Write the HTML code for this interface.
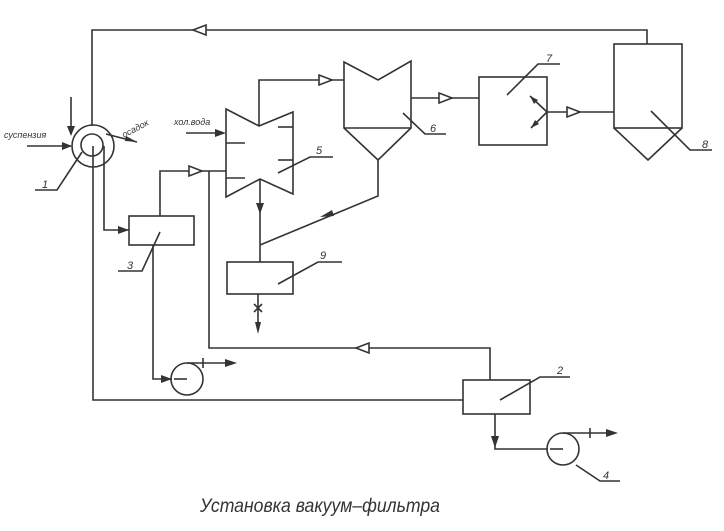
<!DOCTYPE html>
<html><head><meta charset="utf-8"><style>
html,body{margin:0;padding:0;background:#fff;}
svg{display:block}
text{font-family:"Liberation Sans","DejaVu Sans",sans-serif;font-style:italic;fill:#333}
</style></head><body>
<svg width="724" height="531" viewBox="0 0 724 531" xmlns="http://www.w3.org/2000/svg">
<g stroke="#333" stroke-width="1.6" fill="none">
<polyline points="92,126 92,30 647,30 647,44"/>
<polygon points="193,30 206,25 206,35" fill="#fff"/>
<circle cx="93" cy="146" r="21"/>
<circle cx="92" cy="145" r="11"/>
<line x1="27" y1="146" x2="71" y2="146"/>
<line x1="71" y1="97" x2="71" y2="134"/>
<path d="M106 134 L137 142"/>
<polyline points="93,146 93,400 463,400"/>
<polyline points="104,146 104,230 129,230"/>
<rect x="129" y="216" width="65" height="29"/>
<polyline points="160,216 160,171 226,171"/>
<polygon points="202,171 189,166 189,176" fill="#fff"/>
<polyline points="209,171 209,348 490,348 490,380"/>
<polygon points="356,348 369,343 369,353" fill="#fff"/>
<rect x="463" y="380" width="67" height="34"/>
<polyline points="495,414 495,449 548,449"/>
<circle cx="563" cy="449" r="16"/>
<line x1="563" y1="449" x2="550" y2="449"/>
<line x1="563" y1="433" x2="612" y2="433"/>
<line x1="590" y1="428" x2="590" y2="438"/>
<polyline points="153,245 153,379 172,379"/>
<circle cx="187" cy="379" r="16"/>
<line x1="187" y1="379" x2="174" y2="379"/>
<line x1="187" y1="363" x2="232" y2="363"/>
<line x1="203" y1="358" x2="203" y2="368"/>
<polygon points="226,109 259,126 293,112 293,194 260,179 226,197"/>
<line x1="226" y1="143" x2="245" y2="143"/>
<line x1="226" y1="178" x2="245" y2="178"/>
<line x1="278" y1="127" x2="293" y2="127"/>
<line x1="278" y1="160" x2="293" y2="160"/>
<line x1="186" y1="133" x2="220" y2="133"/>
<polyline points="259,126 259,80 344,80"/>
<polygon points="332,80 319,75 319,85" fill="#fff"/>
<line x1="260" y1="179" x2="260" y2="262"/>
<polygon points="344,62 378,80 411,61 411,128 378,160 344,128"/>
<line x1="344" y1="128" x2="411" y2="128"/>
<polyline points="378,160 378,196 260,245"/>
<line x1="411" y1="98" x2="479" y2="98"/>
<polygon points="452,98 439,93 439,103" fill="#fff"/>
<rect x="479" y="77" width="68" height="68"/>
<line x1="547" y1="112" x2="530" y2="96"/>
<line x1="547" y1="112" x2="531" y2="128"/>
<line x1="547" y1="112" x2="614" y2="112"/>
<polygon points="580,112 567,107 567,117" fill="#fff"/>
<rect x="614" y="44" width="68" height="84"/>
<polyline points="614,128 648,160 682,128"/>
<rect x="227" y="262" width="66" height="32"/>
<line x1="258" y1="294" x2="258" y2="326"/>
<path d="M254 304 L262 312 M262 304 L254 312"/>
<polyline points="82,152 57,190 35,190"/>
<polyline points="160,232 142,271 118,271"/>
<polyline points="278,173 310,157 333,157"/>
<polyline points="403,113 425,134 446,134"/>
<polyline points="507,95 538,64 560,64"/>
<polyline points="651,111 690,150 712,150"/>
<polyline points="278,284 318,262 342,262"/>
<polyline points="500,400 540,377 570,377"/>
<polyline points="576,465 600,481 620,481"/>
</g>
<g fill="#333">
<polygon points="72,146 62,142 62,150"/>
<polygon points="71,136 67,126 75,126"/>
<polygon points="129,230 118,226 118,234"/>
<polygon points="226,133 215,129 215,137"/>
<polygon points="260,214 256,203 264,203"/>
<polygon points="320,217 332,210 334,216"/>
<polygon points="258,334 255,322 261,322"/>
<polygon points="172,379 161,375 161,383"/>
<polygon points="237,363 225,359 225,367"/>
<polygon points="495,448 491,436 499,436"/>
<polygon points="618,433 606,429 606,437"/>
<polygon points="530,96 534,104 538,100"/>
<polygon points="531,128 535,120 539,124"/>
<polygon points="137,142 126,136 125,141"/>
</g>
<g font-size="11">
<text x="4" y="138" font-size="9">суспензия</text>
<text x="124" y="138" font-size="9" transform="rotate(-28 124 138)">осадок</text>
<text x="174" y="125" font-size="9">хол.вода</text>
<text x="42" y="188">1</text>
<text x="127" y="269">3</text>
<text x="316" y="154">5</text>
<text x="430" y="132">6</text>
<text x="546" y="62">7</text>
<text x="702" y="148">8</text>
<text x="320" y="259">9</text>
<text x="557" y="374">2</text>
<text x="603" y="479">4</text>
<text x="200" y="512" font-size="19" fill="#444" textLength="240" lengthAdjust="spacingAndGlyphs">Установка вакуум–фильтра</text>
</g>
</svg>
</body></html>
